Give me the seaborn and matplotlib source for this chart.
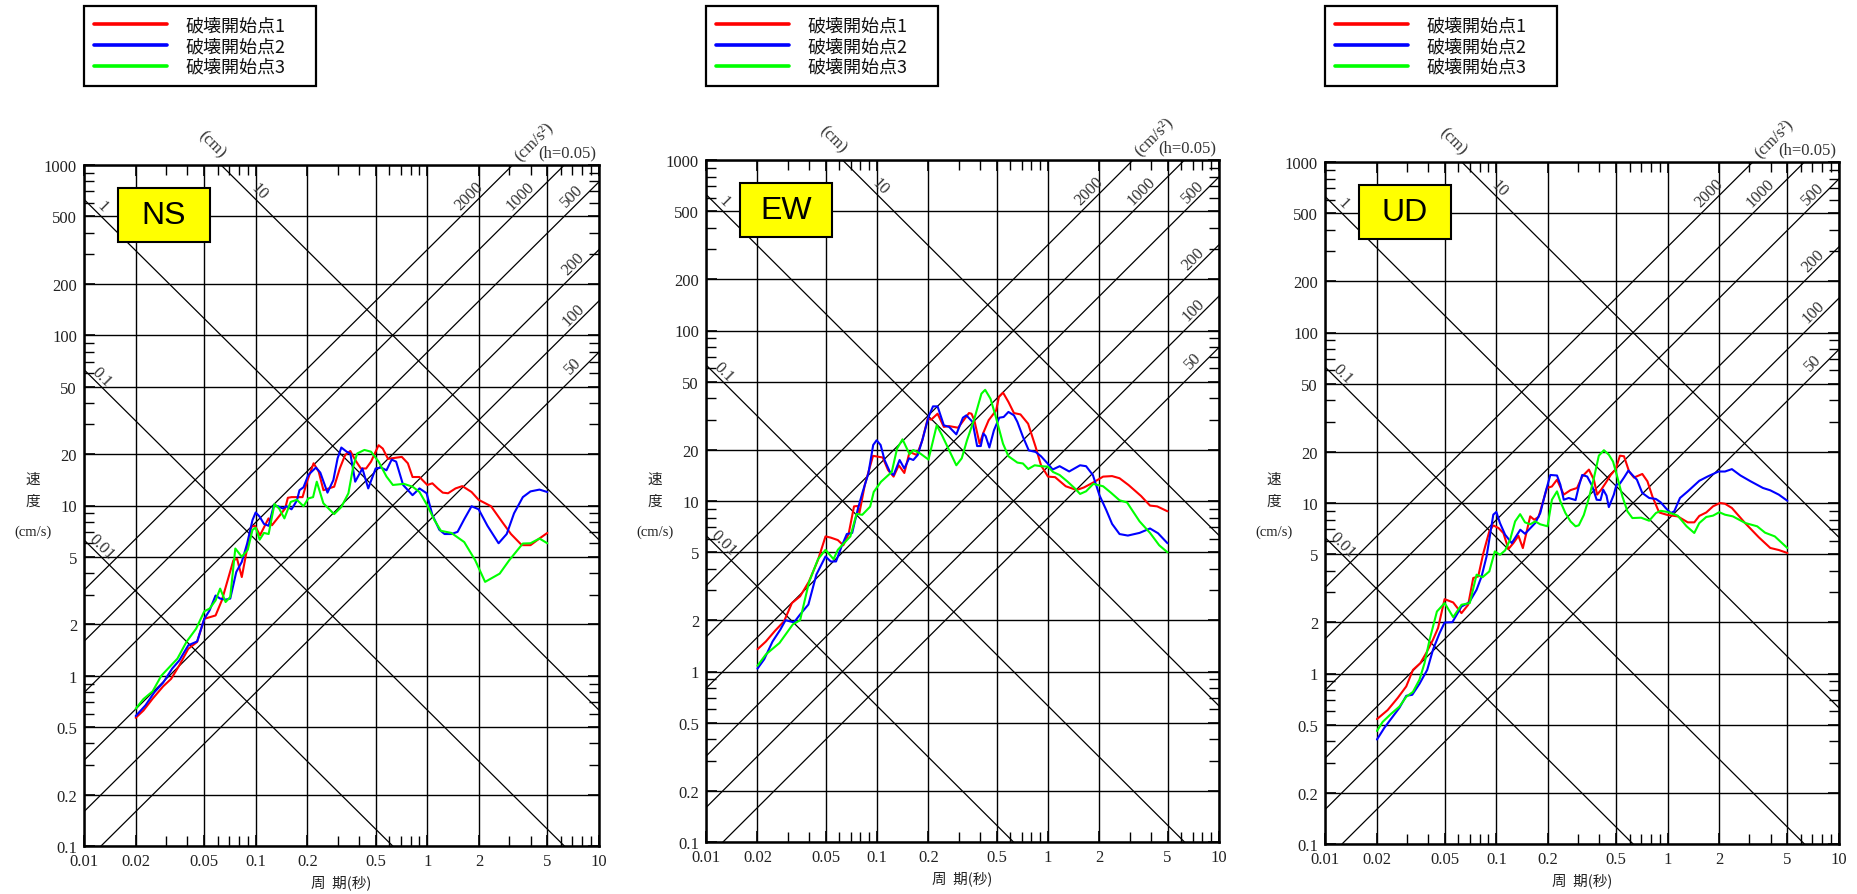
import numpy as np
import pandas as pd
import matplotlib
matplotlib.use("Agg")
import matplotlib.pyplot as plt
import seaborn as sns
from matplotlib.ticker import LogLocator, FixedLocator, FixedFormatter, NullFormatter
from matplotlib.patches import Rectangle
from matplotlib.lines import Line2D

# ---------------- data ----------------
SERIES = ["破壊開始点1", "破壊開始点2", "破壊開始点3"]
COLORS = ["#ff0000", "#0000ff", "#00ff00"]
PANELS = ["NS", "EW", "UD"]

# NS
ns1_t = [0.02, 0.0222, 0.0251, 0.0289, 0.0322, 0.0359, 0.0405, 0.0456, 0.0502, 0.0584, 0.0636, 0.0742, 0.0779, 0.083, 0.0911, 0.0942, 0.099, 0.106, 0.1188, 0.1245, 0.137, 0.1485, 0.154, 0.162, 0.1875, 0.2005, 0.2175, 0.2329, 0.2482, 0.2866, 0.309, 0.332, 0.356, 0.38, 0.41, 0.44, 0.47, 0.52, 0.55, 0.59, 0.71, 0.77, 0.82, 0.9, 1.0, 1.07, 1.15, 1.23, 1.32, 1.46, 1.6, 1.81, 1.99, 2.35, 2.73, 3.07, 3.55, 3.99, 4.5, 5.0]
ns1_v = [0.566, 0.625, 0.733, 0.866, 0.96, 1.15, 1.44, 1.58, 2.16, 2.26, 2.78, 4.77, 4.87, 3.8, 6.25, 7.49, 7.6, 6.69, 8.4, 7.66, 8.65, 9.6, 11.1, 11.2, 11.2, 14.1, 17.7, 15.8, 12.3, 12.9, 16.5, 19.8, 20.9, 18.5, 16.5, 16.5, 18.1, 22.6, 21.6, 18.8, 19.3, 17.7, 14.7, 14.7, 13.2, 13.5, 12.6, 11.9, 11.8, 12.6, 13.0, 12.0, 10.8, 9.9, 8.0, 6.8, 5.85, 5.85, 6.4, 6.9]
ns2_t = [0.02, 0.0228, 0.0257, 0.0289, 0.0326, 0.0359, 0.0405, 0.0456, 0.0502, 0.0539, 0.0584, 0.0621, 0.0668, 0.0711, 0.0771, 0.083, 0.0892, 0.0958, 0.1, 0.1055, 0.1117, 0.119, 0.1275, 0.135, 0.1437, 0.151, 0.1618, 0.1738, 0.18, 0.19, 0.2025, 0.216, 0.2245, 0.238, 0.262, 0.2835, 0.3, 0.3155, 0.339, 0.356, 0.38, 0.4185, 0.4525, 0.5, 0.538, 0.578, 0.62, 0.658, 0.7225, 0.82, 0.9, 0.99, 1.07, 1.175, 1.26, 1.38, 1.5, 1.64, 1.81, 1.99, 2.24, 2.6, 2.9, 3.2, 3.6, 3.99, 4.5, 5.0]
ns2_v = [0.58, 0.67, 0.8, 0.91, 1.1, 1.23, 1.51, 1.59, 2.16, 2.42, 2.96, 2.84, 2.8, 2.84, 4.07, 4.66, 5.98, 8.2, 9.1, 8.6, 7.8, 7.6, 10.0, 9.9, 9.6, 9.9, 9.5, 10.7, 12.3, 12.8, 15.1, 16.1, 16.7, 15.6, 11.9, 14.1, 18.9, 21.9, 20.7, 20.2, 13.8, 16.5, 12.6, 16.5, 16.7, 16.1, 18.6, 18.1, 13.2, 11.5, 12.6, 11.8, 8.8, 7.2, 6.8, 6.8, 7.0, 8.3, 9.9, 9.5, 7.6, 6.0, 6.8, 9.0, 11.2, 12.1, 12.4, 12.0]
ns3_t = [0.02, 0.0222, 0.0251, 0.0282, 0.0316, 0.035, 0.0395, 0.045, 0.0502, 0.0539, 0.0584, 0.0621, 0.0668, 0.0711, 0.0761, 0.083, 0.09, 0.0958, 0.1, 0.1055, 0.1117, 0.119, 0.1287, 0.137, 0.147, 0.16, 0.1738, 0.19, 0.2025, 0.216, 0.227, 0.248, 0.2866, 0.3155, 0.347, 0.37, 0.39, 0.43, 0.47, 0.52, 0.578, 0.63, 0.73, 0.82, 0.9, 1.0, 1.1, 1.2, 1.38, 1.64, 1.9, 2.17, 2.64, 3.0, 3.6, 3.99, 4.5, 5.0]
ns3_v = [0.64, 0.73, 0.81, 1.0, 1.13, 1.26, 1.58, 1.89, 2.39, 2.48, 2.77, 3.25, 2.71, 2.9, 5.59, 5.0, 5.5, 7.2, 7.4, 6.3, 6.9, 6.8, 10.2, 9.6, 8.4, 10.5, 10.8, 9.9, 11.0, 11.2, 13.8, 10.3, 8.9, 9.8, 11.8, 16.9, 20.2, 21.2, 20.7, 18.1, 14.8, 13.2, 13.4, 12.9, 12.0, 10.0, 8.2, 7.1, 6.9, 6.1, 4.77, 3.56, 3.98, 4.77, 5.98, 6.0, 6.4, 6.0]

# EW
ew1_t = [0.02, 0.0224, 0.0253, 0.0286, 0.0318, 0.0355, 0.04, 0.0452, 0.05, 0.0536, 0.059, 0.0635, 0.0682, 0.0734, 0.077, 0.0789, 0.0848, 0.0948, 0.108, 0.116, 0.125, 0.134, 0.1445, 0.155, 0.171, 0.184, 0.198, 0.2075, 0.226, 0.246, 0.264, 0.298, 0.345, 0.357, 0.371, 0.398, 0.4185, 0.45, 0.4975, 0.516, 0.546, 0.587, 0.632, 0.69, 0.765, 0.846, 0.91, 1.0, 1.1, 1.27, 1.47, 1.62, 1.83, 2.1, 2.37, 2.62, 2.96, 3.5, 3.95, 4.35, 5.0]
ew1_v = [1.35, 1.5, 1.73, 1.97, 2.52, 2.76, 3.37, 4.52, 6.2, 6.1, 5.9, 5.5, 6.4, 9.3, 9.35, 8.5, 12.4, 18.4, 18.0, 15.2, 13.9, 16.2, 14.6, 19.4, 18.6, 22.7, 30.4, 30.0, 32.5, 27.2, 27.5, 26.9, 32.8, 32.5, 29.7, 21.7, 25.1, 29.8, 34.0, 40.7, 43.2, 38.1, 32.8, 32.2, 28.4, 20.8, 16.2, 13.9, 13.8, 12.2, 11.6, 12.0, 12.8, 13.9, 14.0, 13.6, 12.4, 10.7, 9.4, 9.3, 8.7]
ew2_t = [0.02, 0.0219, 0.0245, 0.0272, 0.0292, 0.0327, 0.0355, 0.0397, 0.0442, 0.05, 0.0536, 0.0576, 0.062, 0.0666, 0.0716, 0.077, 0.082, 0.089, 0.095, 0.0995, 0.105, 0.1107, 0.119, 0.125, 0.1356, 0.1445, 0.154, 0.163, 0.173, 0.184, 0.2, 0.2125, 0.226, 0.246, 0.264, 0.291, 0.318, 0.333, 0.362, 0.385, 0.4045, 0.4185, 0.432, 0.454, 0.483, 0.519, 0.5505, 0.587, 0.632, 0.662, 0.7135, 0.772, 0.846, 0.91, 1.0, 1.065, 1.17, 1.33, 1.54, 1.67, 1.83, 2.0, 2.19, 2.37, 2.62, 2.93, 3.43, 3.95, 4.4, 5.0]
ew2_v = [1.04, 1.18, 1.5, 1.76, 2.0, 1.94, 2.16, 2.47, 3.7, 4.73, 4.42, 4.42, 5.4, 6.4, 6.5, 8.86, 11.1, 14.5, 21.3, 22.7, 21.3, 17.4, 14.8, 14.2, 17.4, 15.5, 17.8, 17.4, 18.6, 22.7, 31.1, 35.9, 35.9, 27.8, 27.2, 24.6, 30.8, 31.8, 29.1, 21.0, 21.0, 24.9, 24.0, 20.6, 26.0, 30.8, 31.1, 33.3, 31.8, 29.1, 23.8, 19.8, 19.4, 18.3, 16.5, 15.3, 16.0, 14.9, 16.2, 16.0, 14.2, 10.8, 8.86, 7.34, 6.4, 6.27, 6.5, 6.9, 6.47, 5.65]
ew3_t = [0.02, 0.0224, 0.0269, 0.0322, 0.0355, 0.04, 0.0452, 0.05, 0.0557, 0.059, 0.0635, 0.0699, 0.0759, 0.082, 0.0912, 0.0957, 0.1055, 0.122, 0.131, 0.141, 0.155, 0.163, 0.179, 0.2, 0.2235, 0.24, 0.267, 0.291, 0.313, 0.336, 0.371, 0.408, 0.429, 0.461, 0.4955, 0.5455, 0.587, 0.662, 0.7135, 0.766, 0.836, 0.91, 1.0, 1.07, 1.17, 1.3, 1.43, 1.54, 1.67, 1.84, 2.1, 2.33, 2.62, 2.9, 3.43, 3.95, 4.47, 5.0]
ew3_v = [1.08, 1.26, 1.47, 1.89, 2.0, 3.33, 4.56, 5.17, 4.56, 5.17, 5.6, 6.2, 8.4, 8.3, 9.27, 11.3, 12.96, 14.8, 20.3, 23.0, 18.8, 19.9, 19.0, 17.5, 27.8, 24.3, 19.4, 16.2, 17.8, 22.7, 30.4, 42.6, 44.9, 39.8, 31.1, 21.7, 18.3, 16.8, 16.6, 15.4, 16.2, 16.0, 15.9, 14.8, 14.2, 13.0, 11.9, 11.0, 11.4, 12.6, 12.2, 11.2, 10.1, 9.8, 7.6, 6.5, 5.5, 5.0]

# UD
ud1_t = [0.0201, 0.0232, 0.0266, 0.0298, 0.0326, 0.036, 0.039, 0.0427, 0.0457, 0.0499, 0.056, 0.0626, 0.0685, 0.0733, 0.0784, 0.084, 0.091, 0.096, 0.103, 0.11, 0.1176, 0.1258, 0.1346, 0.1428, 0.1576, 0.1664, 0.1764, 0.1975, 0.211, 0.226, 0.2475, 0.271, 0.296, 0.317, 0.347, 0.371, 0.3875, 0.4095, 0.4345, 0.465, 0.4975, 0.5265, 0.556, 0.5955, 0.636, 0.711, 0.762, 0.815, 0.892, 1.0, 1.144, 1.31, 1.43, 1.53, 1.68, 1.84, 2.02, 2.16, 2.37, 2.84, 3.4, 3.97, 4.45, 5.0]
ud1_v = [0.54, 0.61, 0.72, 0.84, 1.05, 1.15, 1.32, 1.58, 1.85, 2.73, 2.61, 2.26, 2.53, 3.63, 3.71, 5.09, 6.82, 7.39, 7.13, 6.66, 5.37, 5.82, 6.42, 5.44, 8.35, 7.98, 8.28, 12.25, 12.5, 13.7, 11.2, 11.9, 12.25, 14.3, 15.7, 13.7, 11.2, 11.98, 13.1, 14.6, 15.8, 18.95, 18.8, 15.3, 14.1, 14.8, 13.4, 10.9, 8.8, 8.5, 8.35, 7.7, 7.7, 8.4, 8.8, 9.56, 10.0, 9.9, 9.35, 7.6, 6.3, 5.45, 5.3, 5.09]
ud2_t = [0.0201, 0.0222, 0.0249, 0.0272, 0.0298, 0.0323, 0.0356, 0.0395, 0.0427, 0.0467, 0.0499, 0.0554, 0.0626, 0.0694, 0.0767, 0.082, 0.0877, 0.096, 0.1, 0.105, 0.1125, 0.123, 0.138, 0.147, 0.1686, 0.1805, 0.193, 0.2066, 0.226, 0.2365, 0.2475, 0.2645, 0.29, 0.303, 0.317, 0.339, 0.3625, 0.385, 0.4055, 0.4205, 0.4395, 0.4535, 0.485, 0.5025, 0.5265, 0.556, 0.59, 0.62, 0.6615, 0.711, 0.78, 0.8535, 0.91, 0.973, 1.043, 1.092, 1.18, 1.31, 1.53, 1.71, 1.98, 2.16, 2.37, 2.66, 3.05, 3.6, 3.97, 4.45, 5.0]
ud2_v = [0.41, 0.48, 0.56, 0.63, 0.74, 0.75, 0.87, 1.05, 1.38, 1.73, 1.99, 2.0, 2.47, 2.61, 3.1, 3.71, 4.86, 8.54, 8.86, 7.63, 6.52, 5.82, 6.97, 6.6, 7.63, 8.73, 11.4, 14.6, 14.5, 12.8, 10.45, 10.7, 10.4, 12.5, 14.6, 14.3, 12.6, 10.45, 10.4, 11.98, 11.05, 9.46, 11.2, 12.8, 13.0, 14.1, 15.5, 14.65, 13.7, 11.45, 10.7, 10.56, 10.1, 9.35, 8.73, 8.93, 10.7, 11.7, 13.5, 14.3, 15.3, 15.3, 15.8, 14.5, 13.4, 12.25, 11.87, 11.2, 10.3]
ud3_t = [0.0201, 0.0217, 0.0243, 0.0272, 0.0298, 0.0326, 0.0356, 0.0381, 0.0408, 0.045, 0.0499, 0.056, 0.0626, 0.07, 0.0767, 0.0831, 0.091, 0.098, 0.105, 0.1125, 0.1204, 0.1287, 0.1377, 0.147, 0.1576, 0.1686, 0.1805, 0.199, 0.211, 0.226, 0.2365, 0.253, 0.271, 0.29, 0.303, 0.324, 0.347, 0.371, 0.3965, 0.4245, 0.4535, 0.48, 0.5075, 0.5445, 0.5825, 0.6225, 0.7, 0.78, 0.8535, 0.91, 1.0, 1.144, 1.29, 1.43, 1.53, 1.68, 1.84, 2.0, 2.16, 2.4, 2.84, 3.33, 3.7, 4.22, 5.0]
ud3_v = [0.46, 0.52, 0.58, 0.64, 0.73, 0.78, 0.92, 1.15, 1.58, 2.31, 2.59, 2.14, 2.53, 2.59, 3.8, 3.67, 3.97, 5.2, 4.97, 5.27, 6.1, 7.8, 8.6, 7.7, 7.5, 7.8, 7.5, 7.3, 10.45, 11.7, 10.2, 8.73, 7.8, 7.3, 7.4, 8.5, 10.7, 14.0, 18.95, 20.4, 19.2, 17.5, 14.3, 10.9, 8.93, 8.16, 8.2, 7.87, 8.73, 9.0, 8.86, 8.43, 7.3, 6.67, 7.63, 8.28, 8.43, 8.83, 8.54, 8.35, 7.63, 7.3, 6.7, 6.37, 5.44]

PANEL_DATA = {
    "NS": [(ns1_t, ns1_v), (ns2_t, ns2_v), (ns3_t, ns3_v)],
    "EW": [(ew1_t, ew1_v), (ew2_t, ew2_v), (ew3_t, ew3_v)],
    "UD": [(ud1_t, ud1_v), (ud2_t, ud2_v), (ud3_t, ud3_v)],
}

X_TICKS = [0.01, 0.02, 0.05, 0.1, 0.2, 0.5, 1, 2, 5, 10]
X_TICKLABELS = ["0.01", "0.02", "0.05", "0.1", "0.2", "0.5", "1", "2", "5", "10"]
Y_TICKS = [0.1, 0.2, 0.5, 1, 2, 5, 10, 20, 50, 100, 200, 500, 1000]
Y_TICKLABELS = ["0.1", "0.2", "0.5", "1", "2", "5", "10", "20", "50", "100", "200", "500", "1000"]
DISP_LINES = [0.01, 0.1, 1, 10]                 # cm
DISP_LABELS = ["0.01", "0.1", "1", "10"]
ACC_LINES = [50, 100, 200, 500, 1000, 2000]     # cm/s^2
ACC_LABELS = ["50", "100", "200", "500", "1000", "2000"]

# ---------------- layout ----------------
W, H = 1857, 895
sns.set_theme(style="white")
plt.rcParams['font.family'] = ['Liberation Serif', 'Noto Sans CJK JP', 'DejaVu Sans']
plt.rcParams['axes.unicode_minus'] = False

fig = plt.figure(figsize=(W / 100, H / 100), dpi=100)
fig.patch.set_facecolor("white")

# axes boxes in pixels: (left, top, right, bottom)
AX_PX = {"NS": (84, 166, 599, 847), "EW": (706, 161, 1219, 843), "UD": (1325, 163, 1839, 845)}

JP = ['Noto Sans CJK JP', 'DejaVu Sans']
TICK_FS = 12
LEG_FS = 13
tgrid = np.array([0.005, 20.0])

for name in PANELS:
    l, t, r, b = AX_PX[name]
    ax = fig.add_axes([l / W, 1 - b / H, (r - l) / W, (b - t) / H])
    ax.set_facecolor("white")

    # data curves
    frames = []
    for (tt, vv), s in zip(PANEL_DATA[name], SERIES):
        frames.append(pd.DataFrame({"period": tt, "velocity": vv, "series": s}))
    df = pd.concat(frames, ignore_index=True)
    sns.lineplot(data=df, x="period", y="velocity", hue="series", hue_order=SERIES,
                 palette=COLORS, estimator=None, sort=False, legend=False,
                 linewidth=1.5, ax=ax, zorder=4)

    ax.set_xscale("log")
    ax.set_yscale("log")
    ax.set_xlim(0.01, 10)
    ax.set_ylim(0.1, 1000)

    # tripartite reference lines
    for D, lab in zip(DISP_LINES, DISP_LABELS):
        ax.plot(tgrid, 2 * np.pi * D / tgrid, color="black", lw=0.9, zorder=2)
        tl = max(0.0118, 2 * np.pi * D / 650.0)
        vl = 2 * np.pi * D / tl
        ax.annotate(lab, (tl, vl), xytext=(4, 4), textcoords="offset points",
                    rotation=-45, rotation_mode="anchor", ha="center", va="center",
                    fontsize=TICK_FS, color="#333333", zorder=3)
    for A, lab in zip(ACC_LINES, ACC_LABELS):
        ax.plot(tgrid, A * tgrid / (2 * np.pi), color="black", lw=0.9, zorder=2)
        tl = min(7.6, 2 * np.pi * 600.0 / A)
        vl = A * tl / (2 * np.pi)
        ax.annotate(lab, (tl, vl), xytext=(-4, 5), textcoords="offset points",
                    rotation=45, rotation_mode="anchor", ha="center", va="center",
                    fontsize=TICK_FS, color="#333333", zorder=3)

    ax.text(0.248, 1.031, "(cm)", transform=ax.transAxes, rotation=-45,
            ha="center", va="center", fontsize=TICK_FS, color="#333333")
    ax.text(0.873, 1.035, "(cm/s²)", transform=ax.transAxes, rotation=45,
            ha="center", va="center", fontsize=TICK_FS, color="#333333")
    ax.text(0.938, 1.018, "(h=0.05)", transform=ax.transAxes,
            ha="center", va="center", fontsize=TICK_FS, color="#333333")

    # ticks / grid
    ax.xaxis.set_major_locator(FixedLocator(X_TICKS))
    ax.xaxis.set_major_formatter(FixedFormatter(X_TICKLABELS))
    ax.yaxis.set_major_locator(FixedLocator(Y_TICKS))
    ax.yaxis.set_major_formatter(FixedFormatter(Y_TICKLABELS))
    ax.xaxis.set_minor_locator(LogLocator(base=10, subs=[3, 4, 6, 7, 8, 9], numticks=30))
    ax.yaxis.set_minor_locator(LogLocator(base=10, subs=[3, 4, 6, 7, 8, 9], numticks=30))
    ax.xaxis.set_minor_formatter(NullFormatter())
    ax.yaxis.set_minor_formatter(NullFormatter())
    ax.tick_params(which="both", direction="in", top=True, right=True,
                   bottom=True, left=True, color="black")
    ax.tick_params(which="major", length=8, width=1.2, labelsize=TICK_FS, pad=5,
                   labelcolor="#222222")
    ax.tick_params(which="minor", length=7, width=1.0)
    ax.grid(True, which="major", color="black", lw=1.0, zorder=1)
    ax.set_axisbelow(True)
    for sp in ax.spines.values():
        sp.set_color("black")
        sp.set_linewidth(1.8)
    ax.set_xlabel("")
    ax.set_ylabel("")

    # axis titles
    ax.text(0.5, -36 / (b - t), "周  期(秒)", transform=ax.transAxes, ha="center",
            va="center", fontsize=10.5, family=JP, color="#222222")
    yoff = -51 / (r - l)
    ax.text(yoff, (b - 480) / (b - t), "速", transform=ax.transAxes, ha="center",
            va="center", fontsize=10.5, family=JP, color="#222222")
    ax.text(yoff, (b - 502) / (b - t), "度", transform=ax.transAxes, ha="center",
            va="center", fontsize=10.5, family=JP, color="#222222")
    ax.text(yoff, (b - 532) / (b - t), "(cm/s)", transform=ax.transAxes, ha="center",
            va="center", fontsize=10.5, color="#222222")

    # component badge
    ax.add_patch(Rectangle((0.066, 0.887), 0.179, 0.079, transform=ax.transAxes,
                           facecolor="#ffff00", edgecolor="black", lw=1.5, zorder=6))
    ax.text(0.1555, 0.9265, name, transform=ax.transAxes, ha="center", va="center",
            fontsize=23, family=["Liberation Sans"], color="black", zorder=7)

    # legend (box spans 7..85 px from the top, 232 px wide)
    handles = [Line2D([0], [0], color=c, lw=2.6) for c in COLORS]
    leg = ax.legend(handles=handles, labels=SERIES, loc="upper left",
                    bbox_to_anchor=(l / W, 1 - 85 / H, 232 / W, 78 / H),
                    bbox_transform=fig.transFigure, mode="expand",
                    prop={"family": JP, "size": LEG_FS}, frameon=True, fancybox=False,
                    edgecolor="black", framealpha=1, handlelength=4.06,
                    handletextpad=1.0, borderpad=0.56, borderaxespad=0,
                    labelspacing=0.16)
    leg.get_frame().set_linewidth(1.6)
    for txt in leg.get_texts():
        txt.set_color("#111111")

fig.savefig("out.png", dpi=100, facecolor="white")
